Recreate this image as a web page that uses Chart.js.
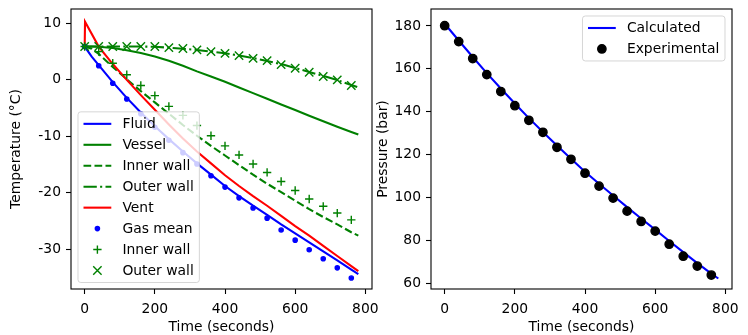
<!DOCTYPE html>
<html>
<head>
<meta charset="utf-8">
<script src="https://cdn.jsdelivr.net/npm/chart.js"></script>
<style>
  html, body { margin: 0; padding: 0; background: #fff; }
  #wrap { position: relative; width: 748px; height: 335px; }
  canvas { position: absolute; left: 0; top: 0; }
</style>
</head>
<body>
<div id="wrap">
  <canvas id="temp" width="748" height="335"></canvas>
  <canvas id="pres" width="748" height="335"></canvas>
</div>
<script>
// calculated curves (seconds)
const lineTimes = [0, 20, 40, 80, 120, 160, 200, 240, 280, 320, 360, 400, 440, 480, 520, 560, 600, 640, 680, 720, 760, 780];
const fluid = [5.9, 4.1, 2.6, -0.4, -3.2, -5.8, -8.2, -10.5, -12.7, -14.8, -16.8, -18.8, -20.6, -22.3, -23.9, -25.6, -27.2, -28.8, -30.4, -32.0, -33.6, -34.4];
const vessel = [5.9, 5.9, 5.85, 5.65, 5.25, 4.75, 4.15, 3.4, 2.5, 1.5, 0.6, -0.35, -1.35, -2.35, -3.35, -4.35, -5.35, -6.35, -7.35, -8.3, -9.25, -9.7];
const innerWall = [5.9, 5.5, 4.6, 2.3, 0.1, -2.0, -4.0, -6.0, -8.0, -9.9, -11.7, -13.4, -15.1, -16.8, -18.4, -19.9, -21.4, -22.9, -24.3, -25.6, -27.0, -27.6];
const outerWall = [5.9, 5.9, 5.9, 5.9, 5.9, 5.9, 5.85, 5.7, 5.5, 5.3, 5.0, 4.7, 4.3, 3.85, 3.35, 2.8, 2.1, 1.4, 0.7, -0.05, -0.9, -1.35];

const ventTimes = [0, 1, 40, 80, 120, 160, 200, 240, 280, 320, 360, 400, 440, 480, 520, 560, 600, 640, 680, 720, 760, 780];
const vent = [5.8, 10.3, 5.9, 2.8, 0.0, -2.7, -5.3, -7.9, -10.4, -12.7, -14.8, -16.9, -18.8, -20.6, -22.3, -24.1, -25.9, -27.6, -29.4, -31.2, -33.0, -33.9];

// experimental values
const measTimes = [0, 40, 80, 120, 160, 200, 240, 280, 320, 360, 400, 440, 480, 520, 560, 600, 640, 680, 720, 760];
const gasMean = [5.9, 2.5, -0.6, -3.4, -6.0, -8.4, -10.7, -12.9, -14.9, -17.0, -19.0, -20.9, -22.7, -24.5, -26.6, -28.4, -30.1, -31.7, -33.3, -35.1];
const innerWallMeas = [5.9, 5.0, 2.95, 0.9, -1.0, -2.8, -4.7, -6.3, -8.1, -9.9, -11.7, -13.3, -14.9, -16.4, -18.0, -19.6, -21.1, -22.4, -23.6, -24.8];
const outerWallMeas = [5.9, 5.9, 5.9, 5.9, 5.9, 5.9, 5.7, 5.55, 5.3, 5.0, 4.7, 4.3, 3.8, 3.4, 2.7, 2.05, 1.35, 0.6, 0.0, -1.0];

// pressure
const calcTimes = [0, 40, 80, 120, 160, 200, 240, 280, 320, 360, 400, 440, 480, 520, 560, 600, 640, 680, 720, 760, 780];
const pressureCalc = [181.0, 173.2, 165.5, 158.0, 150.8, 143.8, 137.0, 130.5, 124.2, 118.0, 112.0, 106.4, 100.9, 95.5, 90.2, 85.0, 79.7, 74.5, 69.4, 64.5, 62.2];
const pressureMeas = [180.1, 172.7, 164.8, 157.3, 149.4, 142.8, 136.0, 130.4, 123.4, 117.8, 111.3, 105.3, 99.7, 93.6, 88.8, 84.3, 78.2, 72.6, 68.0, 63.8];

const timeTicks = [0, 200, 400, 600, 800];
const tempTicks = [-30, -20, -10, 0, 10];
const pressureTicks = [60, 80, 100, 120, 140, 160, 180];

const FS = 13.89;
const axisFont = { family: 'DejaVu Sans', size: FS };
const DASHED = [7.7, 3.3];
const DASHDOT = [13.3, 3.3, 2.1, 3.3];

const pts = (xs, ys) => xs.map((x, i) => ({ x: x, y: ys[i] }));

const lineSet = (label, xs, ys, color, dash, order) => ({
    label: label, data: pts(xs, ys), showLine: true,
    borderColor: color, backgroundColor: color, borderWidth: 2.1,
    borderDash: dash, pointRadius: 0, order: order,
    legendStyle: { line: true, dash: dash }
});

const markSet = (label, xs, ys, color, style, radius, order) => ({
    label: label, data: pts(xs, ys), showLine: false,
    borderColor: color, backgroundColor: color,
    pointStyle: style, pointRadius: radius, pointBorderWidth: 1.4, order: order,
    legendStyle: { marker: style, radius: radius }
});

// own point drawing for the legend
const drawMarker = (ctx, style, r, x, y) => {
    ctx.beginPath();
    if (style === 'circle') {
        ctx.arc(x, y, r, 0, Math.PI * 2);
        ctx.fill();
        ctx.stroke();
    } else if (style === 'cross') {
        ctx.moveTo(x - r, y); ctx.lineTo(x + r, y);
        ctx.moveTo(x, y - r); ctx.lineTo(x, y + r);
        ctx.stroke();
    } else {
        const d = r * Math.SQRT1_2;
        ctx.moveTo(x - d, y - d); ctx.lineTo(x + d, y + d);
        ctx.moveTo(x + d, y - d); ctx.lineTo(x - d, y + d);
        ctx.stroke();
    }
};

const framePlugin = {
    id: 'frame',
    afterDatasetsDraw(chart) {
        const { ctx, chartArea: a } = chart;
        ctx.save();
        ctx.strokeStyle = '#000';
        ctx.lineWidth = 1.1;
        ctx.strokeRect(a.left, a.top, a.right - a.left, a.bottom - a.top);
        ctx.restore();
    }
};

const legendPlugin = {
    id: 'mplLegend',
    afterDraw(chart, args, opts) {
        const { ctx, chartArea: a } = chart;
        const sets = chart.data.datasets.slice();
        ctx.save();
        ctx.font = FS + 'px "DejaVu Sans"';
        const textW = Math.max(...sets.map(s => ctx.measureText(s.label).width));
        const rowH = 20.95;
        const w = 44.4 + textW + 5.6;
        const h = rowH * (sets.length - 1) + 24;
        const x = opts.corner === 'ur' ? a.right - 7 - w : a.left + 7;
        const y = opts.corner === 'ur' ? a.top + 7 : a.bottom - 6.5 - h;
        ctx.beginPath();
        ctx.roundRect(x, y, w, h, 2.8);
        ctx.fillStyle = 'rgba(255,255,255,0.8)';
        ctx.fill();
        ctx.strokeStyle = 'rgba(204,204,204,0.8)';
        ctx.lineWidth = 1;
        ctx.stroke();
        sets.forEach((s, i) => {
            const cy = y + 12 + i * rowH;
            const st = s.legendStyle;
            ctx.strokeStyle = s.borderColor;
            ctx.fillStyle = s.backgroundColor;
            if (st.line) {
                ctx.lineWidth = 2.1;
                ctx.setLineDash(st.dash);
                ctx.beginPath();
                ctx.moveTo(x + 5.5, cy);
                ctx.lineTo(x + 33.3, cy);
                ctx.stroke();
                ctx.setLineDash([]);
            } else {
                ctx.lineWidth = 1.4;
                drawMarker(ctx, st.marker, st.radius, x + 19.4, cy);
            }
            ctx.fillStyle = '#000';
            ctx.textBaseline = 'middle';
            ctx.textAlign = 'left';
            ctx.fillText(s.label, x + 44.4, cy + 0.5);
        });
        ctx.restore();
    }
};

const xScale = () => ({
    type: 'linear', min: -39, max: 819,
    afterBuildTicks: s => { s.ticks = timeTicks.map(v => ({ value: v })); },
    afterFit: s => { s.height = 46; s.paddingLeft = 0; s.paddingRight = 0; },
    grid: { drawOnChartArea: false, tickLength: 5, tickColor: '#000', tickWidth: 1.1 },
    border: { display: false },
    ticks: { color: '#000', font: axisFont, padding: 7, maxRotation: 0, autoSkip: false, callback: v => String(v) },
    title: { display: true, text: 'Time (seconds)', color: '#000', font: axisFont, padding: { top: 0, bottom: -1 } }
});

const yScale = (min, max, ticks, title, width, titlePad) => ({
    type: 'linear', min: min, max: max,
    afterBuildTicks: s => { s.ticks = ticks.map(v => ({ value: v })); },
    afterFit: s => { s.width = width; s.paddingTop = 0; s.paddingBottom = 0; },
    grid: { drawOnChartArea: false, tickLength: 5, tickColor: '#000', tickWidth: 1.1 },
    border: { display: false },
    ticks: { color: '#000', font: axisFont, padding: 5, autoSkip: false, callback: v => String(v) },
    title: { display: true, text: title, color: '#000', font: axisFont, padding: { top: titlePad, bottom: 0 } }
});

const tempChart = new Chart(document.getElementById('temp'), {
    type: 'scatter',
    data: {
        datasets: [
            lineSet('Fluid', lineTimes, fluid, '#0000ff', [], 7),
            lineSet('Vessel', lineTimes, vessel, '#008000', [], 6),
            lineSet('Inner wall', lineTimes, innerWall, '#008000', DASHED, 5),
            lineSet('Outer wall', lineTimes, outerWall, '#008000', DASHDOT, 4),
            lineSet('Vent', ventTimes, vent, '#ff0000', [], 3),
            markSet('Gas mean', measTimes, gasMean, '#0000ff', 'circle', 2.1, 2),
            markSet('Inner wall', measTimes, innerWallMeas, '#008000', 'cross', 4.17, 1),
            markSet('Outer wall', measTimes, outerWallMeas, '#008000', 'crossRot', 5.9, 0)
        ]
    },
    options: {
        responsive: false,
        animation: false,
        events: [],
        layout: { padding: { left: 0, right: 376, top: 9, bottom: 0 } },
        scales: {
            x: xScale(),
            y: yScale(-37.05, 12.55, tempTicks, 'Temperature (°C)', 71, 8)
        },
        plugins: {
            legend: { display: false },
            tooltip: { enabled: false },
            mplLegend: { corner: 'll' }
        }
    },
    plugins: [framePlugin, legendPlugin]
});

const presChart = new Chart(document.getElementById('pres'), {
    type: 'scatter',
    data: {
        datasets: [
            lineSet('Calculated', calcTimes, pressureCalc, '#0000ff', [], 1),
            markSet('Experimental', measTimes, pressureMeas, '#000000', 'circle', 4.17, 0)
        ]
    },
    options: {
        responsive: false,
        animation: false,
        events: [],
        layout: { padding: { left: 374, right: 16, top: 9, bottom: 0 } },
        scales: {
            x: xScale(),
            y: yScale(57.3, 187.9, pressureTicks, 'Pressure (bar)', 57, 1)
        },
        plugins: {
            legend: { display: false },
            tooltip: { enabled: false },
            mplLegend: { corner: 'ur' }
        }
    },
    plugins: [framePlugin, legendPlugin]
});
</script>
</body>
</html>
